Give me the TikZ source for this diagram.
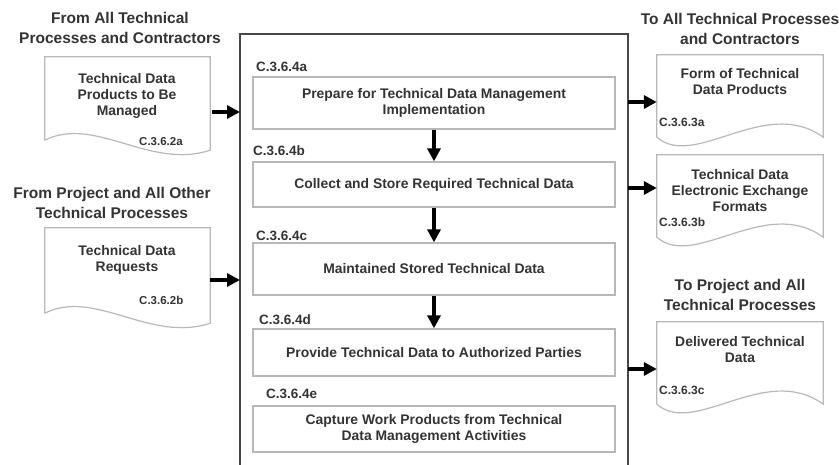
\documentclass[tikz,border=0pt]{standalone}
\usepackage{fontspec}
\setmainfont{Liberation Sans}
\usetikzlibrary{arrows.meta}

\begin{document}
\begin{tikzpicture}
	[x=1pt,y=-1pt,line cap=round,
	%Styles
	title text/.style={align=center,text=textgray,font=\fontsize{15.5}{20}\selectfont\bfseries},
	doc text/.style={align=center,text=textgray,font=\fontsize{13.9}{16}\selectfont\bfseries},
	code text/.style={anchor=west,inner sep=0pt,text=textgray,font=\fontsize{#1}{14}\selectfont\bfseries},
	activity/.style={draw=boxgray,line width=1.3pt,minimum width=362pt,minimum height=#1,align=center,text=textgray,font=\fontsize{13.9}{16}\selectfont\bfseries},
	doc/.style={inner sep=0pt,minimum width=165pt,minimum height=#1},
	doc line/.style={draw=boxgray,line width=1.2pt},
	frame line/.style={draw=framegray,line width=1.8pt},
	flow/.style={line width=4pt,line cap=butt,-{Triangle[length=13pt,width=13pt]}}
	]
	
	%Colors
	\colorlet{textgray}{black!80}
	\colorlet{boxgray}{black!28}
	\colorlet{framegray}{black!72}
	
	\useasboundingbox (0,0) rectangle (839,465);
	
	%The frame
	\draw[frame line] (240,470) -- (240,34) -- (628,34) -- (628,470);
	
	%Activities
	\node[activity=52pt] (ca) at (434,103) {Prepare for Technical Data Management\\Implementation};
	\node[activity=45pt] (cb) at (434,184.5) {Collect and Store Required Technical Data};
	\node[activity=52pt] (cc) at (434,269) {Maintained Stored Technical Data};
	\node[activity=47pt] (cd) at (434,352.5) {Provide Technical Data to Authorized Parties};
	\node[activity=46pt] (ce) at (434,429) {Capture Work Products from Technical\\Data Management Activities};
	
	\node[code text=13.5] at (256,67) {C.3.6.4a};
	\node[code text=13.5] at (253,151) {C.3.6.4b};
	\node[code text=13.5] at (256,236) {C.3.6.4c};
	\node[code text=13.5] at (259,320) {C.3.6.4d};
	\node[code text=13.5] at (266,394) {C.3.6.4e};
	
	\foreach \u/\v in {ca/cb,cb/cc,cc/cd}
		\draw[flow] (\u.south) -- (\v.north);
	
	%Inputs
	\node[title text] (fromall) at (120,27.5) {From All Technical\\Processes and Contractors};
	\node[title text] (fromproj) at (112,203) {From Project and All Other\\Technical Processes};
	
	\node[doc=83pt] (in1) at (127.5,98.5) {};
	\node[doc=85pt] (in2) at (127.5,270.5) {};
	\foreach \d in {in1,in2}
		\draw[doc line] (\d.south west) -- (\d.north west) -- (\d.north east) -- (\d.south east) -- ++(0,10)
			.. controls +(-60,20) and +(50,-25) .. (\d.south west);
	
	\node[doc text] at (127,96) {Technical Data\\Products to Be\\Managed};
	\node[code text=11.5] at (139,142) {C.3.6.2a};
	\node[doc text] at (127,260) {Technical Data\\Requests};
	\node[code text=11.5] at (139,300) {C.3.6.2b};
	
	\coordinate (f1) at (240,112);
	\coordinate (f2) at (240,280);
	\draw[flow] (in1.east |- f1) ++(2,0) -- (f1);
	\draw[flow] (in2.east |- f2) -- (f2);
	
	%Outputs
	\node[title text] (toall) at (740,29) {To All Technical Processes\\and Contractors};
	\node[title text] (toproj) at (740,295) {To Project and All\\Technical Processes};
	
	\node[doc=82pt,minimum width=166pt] (out1) at (740,96) {};
	\node[doc=82pt,minimum width=166pt] (out2) at (740,196) {};
	\node[doc=82pt,minimum width=166pt] (out3) at (740,363) {};
	\foreach \d in {out1,out2,out3}
		\draw[doc line] (\d.south west) -- (\d.north west) -- (\d.north east) -- (\d.south east)
			.. controls +(-58,-42) and +(38,33) .. (\d.south west);
	
	\node[doc text] at (740,81.5) {Form of Technical\\Data Products};
	\node[code text=12] at (659,122) {C.3.6.3a};
	\node[doc text] at (740,191) {Technical Data\\Electronic Exchange\\Formats};
	\node[code text=12] at (659,222) {C.3.6.3b};
	\node[doc text] at (740,349.5) {Delivered Technical\\Data};
	\node[code text=12] at (659,390) {C.3.6.3c};
	
	\coordinate (g1) at (628,102);
	\coordinate (g2) at (628,188);
	\coordinate (g3) at (628,369);
	\draw[flow] (g1) -- (out1.west |- g1);
	\draw[flow] (g2) -- (out2.west |- g2);
	\draw[flow] (g3) -- (out3.west |- g3);
\end{tikzpicture}
\end{document}
